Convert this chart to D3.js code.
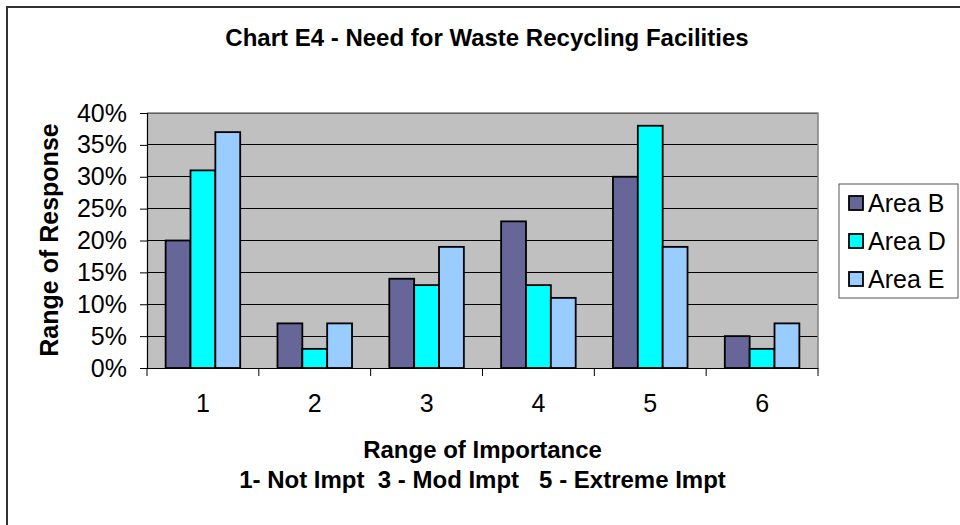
<!DOCTYPE html>
<html><head><meta charset="utf-8">
<script src="https://cdn.jsdelivr.net/npm/d3@7"></script>
<style>
body{margin:0;background:#fff;}
text{font-family:"Liberation Sans",Arial,sans-serif;fill:#000;}
</style></head>
<body><svg id="c" width="960" height="525"></svg>
<script>
const categories = ["1","2","3","4","5","6"];
const seriesNames = ["Area B","Area D","Area E"];
const areaB = [20,7,14,23,30,5];
const areaD = [31,3,13,13,38,3];
const areaE = [37,7,19,11,19,7];
const yTicks = [0,5,10,15,20,25,30,35,40];
const colors = ["#666699","#00FFFF","#99CCFF"];

const series = [areaB, areaD, areaE];
const svg = d3.select("#c");
const L = 147, R = 818, T = 113, B = 368;

// outer border
svg.append("rect").attr("x",7).attr("y",7).attr("width",1000).attr("height",600)
  .attr("fill","none").attr("stroke","#333").attr("stroke-width",2);

const x = d3.scaleBand().domain(categories).range([L,R]).padding(0);
const y = d3.scaleLinear().domain([0,40]).range([B,T]);
const bw = x.bandwidth()/4.5;
const inner = d3.scaleBand().domain(seriesNames).range([bw*0.75, bw*3.75]).padding(0);

svg.append("rect").attr("x",L).attr("y",T).attr("width",R-L).attr("height",B-T).attr("fill","#C0C0C0");
// gridlines
svg.append("g").selectAll("line").data(yTicks.filter(d=>d>0)).join("line")
  .attr("x1",L).attr("x2",R).attr("y1",d=>y(d)).attr("y2",d=>y(d))
  .attr("stroke","#000").attr("stroke-width",1).attr("shape-rendering","crispEdges");
// plot border top/right
svg.append("path").attr("d",`M${L},${T}H${R}V${B}`).attr("fill","none").attr("stroke","#808080").attr("stroke-width",1.5);

// bars
const g = svg.append("g");
categories.forEach((c,i)=>{
  seriesNames.forEach((s,j)=>{
    const v = series[j][i];
    g.append("rect").attr("x",x(c)+inner(s)).attr("y",y(v)).attr("width",inner.bandwidth()).attr("height",y(0)-y(v))
      .attr("fill",colors[j]).attr("stroke","#000").attr("stroke-width",1.8);
  });
});

// axes
const ya = svg.append("g").attr("transform",`translate(${L},0)`)
  .call(d3.axisLeft(y).tickValues(yTicks).tickSize(7).tickPadding(13).tickFormat(d=>d+"%"));
ya.select(".domain").attr("stroke","#000").attr("stroke-width",1.2);
ya.selectAll("text").attr("font-size",25).attr("font-family","Liberation Sans, Arial, sans-serif");

const xa = svg.append("g").attr("transform",`translate(0,${B})`)
  .call(d3.axisBottom(x).tickSize(0).tickPadding(26));
xa.select(".domain").attr("stroke","#000").attr("stroke-width",1.2);
xa.selectAll("text").attr("font-size",25).attr("font-family","Liberation Sans, Arial, sans-serif");
// category boundary ticks
svg.append("g").selectAll("line").data(d3.range(categories.length+1)).join("line")
  .attr("x1",d=>L+d*x.step()).attr("x2",d=>L+d*x.step()).attr("y1",B).attr("y2",B+8).attr("stroke","#000");

// title
svg.append("text").attr("x",487).attr("y",46).attr("text-anchor","middle")
  .attr("font-size",24).attr("font-weight","bold").text("Chart E4 - Need for Waste Recycling Facilities");
svg.append("text").attr("x",(L+R)/2).attr("y",458).attr("text-anchor","middle")
  .attr("font-size",24).attr("font-weight","bold").text("Range of Importance");
svg.append("text").attr("x",(L+R)/2).attr("y",488).attr("text-anchor","middle").attr("xml:space","preserve")
  .style("white-space","pre").attr("font-size",24).attr("font-weight","bold").text("1- Not Impt  3 - Mod Impt   5 - Extreme Impt");
svg.append("text").attr("transform","translate(58,240) rotate(-90)").attr("text-anchor","middle")
  .attr("font-size",25).attr("font-weight","bold").text("Range of Response");

// legend
svg.append("rect").attr("x",839).attr("y",184).attr("width",119).attr("height",114)
  .attr("fill","#fff").attr("stroke","#555").attr("stroke-width",1);
const lg = svg.append("g").selectAll("g").data(seriesNames).join("g")
  .attr("transform",(d,i)=>`translate(849,${203+i*38})`);
lg.append("rect").attr("x",0).attr("y",-7).attr("width",14).attr("height",14)
  .attr("fill",(d,i)=>colors[i]).attr("stroke","#000").attr("stroke-width",1.8);
lg.append("text").attr("x",19).attr("y",0).attr("dy","0.35em").attr("font-size",25).text(d=>d);
</script></body></html>
